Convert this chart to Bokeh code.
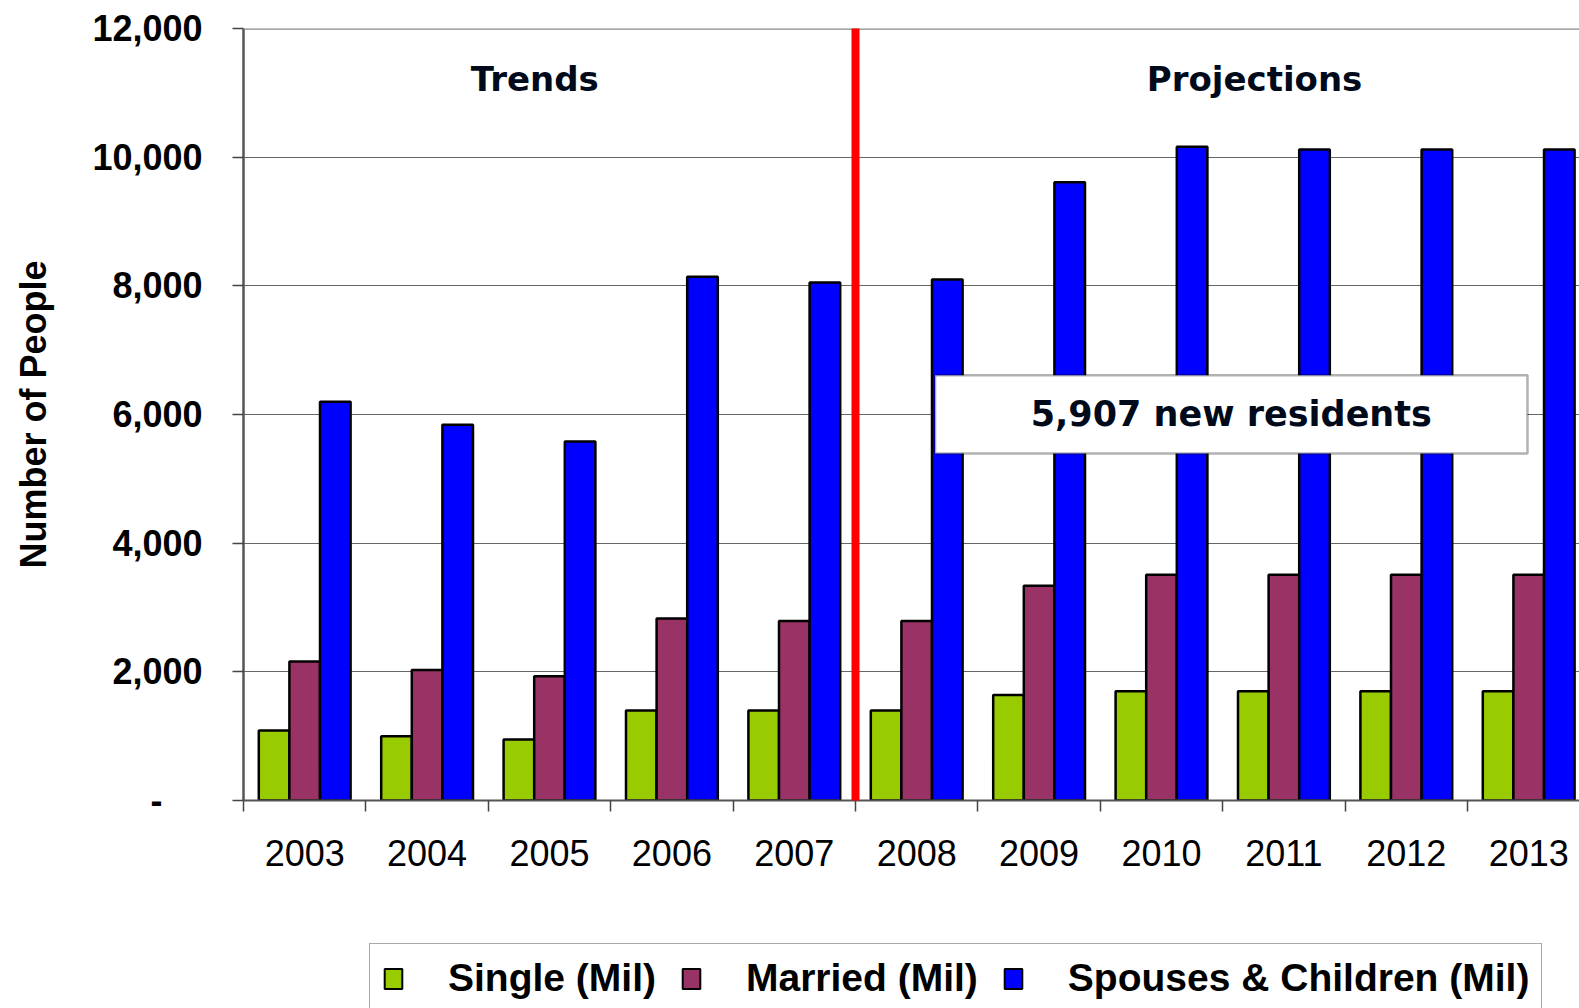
from bokeh.plotting import figure
from bokeh.layouts import column
from bokeh.models import (Range1d, FixedTicker, NumeralTickFormatter, Span, BoxAnnotation,
                          Label, Legend, LegendItem)
from bokeh.embed import file_html
from bokeh.resources import INLINE

years = ["2003", "2004", "2005", "2006", "2007", "2008", "2009", "2010", "2011", "2012", "2013"]
single = [1090, 1000, 950, 1400, 1400, 1400, 1640, 1700, 1700, 1700, 1700]
married = [2160, 2030, 1930, 2830, 2790, 2790, 3340, 3510, 3510, 3510, 3510]
spouses = [6200, 5840, 5580, 8140, 8050, 8100, 9610, 10160, 10120, 10120, 10120]
series_names = ["Single (Mil)", "Married (Mil)", "Spouses & Children (Mil)"]
series_colors = ["#99CC00", "#993366", "#0000FF"]
y_ticks = [0, 2000, 4000, 6000, 8000, 10000, 12000]
first_projection_year = "2008"
note_text = "5,907 new residents"

n = len(years)
split = years.index(first_projection_year)
series = [single, married, spouses]

p = figure(width=1579, height=940, output_backend="svg", toolbar_location=None,
           x_range=Range1d(0, n - 0.085), y_range=Range1d(0, 12000),
           min_border_left=243, min_border_right=0, min_border_top=28, min_border_bottom=140)
p.background_fill_color = "white"
p.border_fill_color = "white"
p.outline_line_color = None

for k, (vals, col) in enumerate(zip(series, series_colors)):
    xs = [i + 0.25 * (k + 1) for i in range(n)]
    p.vbar(x=xs, top=vals, width=0.25, fill_color=col, line_color="black", line_width=2.5)

# axes
xa = p.xaxis[0]
xa.ticker = FixedTicker(ticks=[i + 0.5 for i in range(n)], minor_ticks=list(range(n + 1)))
xa.major_label_overrides = {i + 0.5: y for i, y in enumerate(years)}
xa.major_tick_out = 0
xa.major_tick_in = 0
xa.minor_tick_out = 11
xa.minor_tick_in = 0
xa.minor_tick_line_color = "#444444"
xa.minor_tick_line_width = 1.5
xa.axis_line_color = "#555555"
xa.axis_line_width = 2
xa.major_label_standoff = 28
xa.major_label_text_font = "Liberation Sans"
xa.major_label_text_font_size = "36px"
xa.major_label_text_color = "black"

ya = p.yaxis[0]
ya.ticker = FixedTicker(ticks=y_ticks)
ya.formatter = NumeralTickFormatter(format="0,0")
ya.major_label_overrides = {0: "-\u2007\u2007"}
ya.major_tick_out = 11
ya.major_tick_in = 0
ya.minor_tick_line_color = None
ya.major_tick_line_color = "#444444"
ya.major_tick_line_width = 1.5
ya.axis_line_color = "#555555"
ya.axis_line_width = 2.5
ya.major_label_standoff = 30
ya.major_label_text_font = "Liberation Sans"
ya.major_label_text_font_style = "bold"
ya.major_label_text_font_size = "36px"
ya.major_label_text_color = "black"
ya.axis_label = "Number of People"
ya.axis_label_text_font = "Liberation Sans"
ya.axis_label_text_font_style = "bold"
ya.axis_label_text_font_size = "36px"
ya.axis_label_text_color = "black"
ya.axis_label_standoff = 35

p.xgrid.grid_line_color = None
p.ygrid.grid_line_color = "#666666"
p.ygrid.grid_line_width = 1

# top border
p.add_layout(Span(location=y_ticks[-1], dimension="width", line_color="#888888", line_width=2.5))

# divider between trends and projections
p.add_layout(Span(location=split, dimension="height", line_color="#FF0000", line_width=8,
                  line_cap="round"))

head_font = "DejaVu Sans"
head_color = "#000a1a"
p.add_layout(Label(x=split / 2 - 0.12, y=11210, text="Trends", text_font=head_font,
                   text_font_style="bold", text_font_size="34px", text_color=head_color,
                   text_align="center", text_baseline="middle"))
p.add_layout(Label(x=split + (n - split) / 2 + 0.26, y=11210, text="Projections", text_font=head_font,
                   text_font_style="bold", text_font_size="34px", text_color=head_color,
                   text_align="center", text_baseline="middle"))

# note box
p.add_layout(BoxAnnotation(left=5.65, right=10.49, bottom=5392, top=6610,
                           fill_color="white", fill_alpha=1.0,
                           line_color="black", line_width=2.5))
p.add_layout(Label(x=8.07, y=6010, text=note_text, text_font=head_font,
                   text_font_style="bold", text_font_size="35px", text_color=head_color,
                   text_align="center", text_baseline="middle"))

# legend strip: same series, drawn in ranges that keep the bars out of view
# (behind the legend box); only their legend keys are shown
lg = figure(width=1579, height=68, output_backend="svg", toolbar_location=None,
            x_range=Range1d(-1.3, n + 0.5), y_range=Range1d(50000, 50001),
            x_axis_location=None, y_axis_location=None,
            min_border_left=243, min_border_right=0, min_border_top=0, min_border_bottom=0)
lg.background_fill_color = "white"
lg.border_fill_color = "white"
lg.outline_line_color = None
lg.xgrid.visible = False
lg.ygrid.visible = False
keys = []
for k, (vals, col) in enumerate(zip(series, series_colors)):
    xs = [i + 0.25 * (k + 1) for i in range(n)]
    keys.append(lg.vbar(x=xs, top=vals, width=0.25, fill_color=col, line_color="black", line_width=2))

legend = Legend(items=[LegendItem(label=nm, renderers=[r]) for nm, r in zip(series_names, keys)],
                orientation="horizontal", location=(126, -5),
                glyph_width=22, glyph_height=25, label_standoff=44, spacing=24, padding=12,
                label_text_font="Liberation Sans", label_text_font_style="bold",
                label_text_font_size="39px", label_text_color="black",
                border_line_color="#555555", border_line_width=1.5,
                background_fill_color="white", background_fill_alpha=1.0, margin=0)
lg.add_layout(legend, "center")

layout = column(p, lg, spacing=0)
open("out.html", "w").write(file_html(layout, INLINE))
